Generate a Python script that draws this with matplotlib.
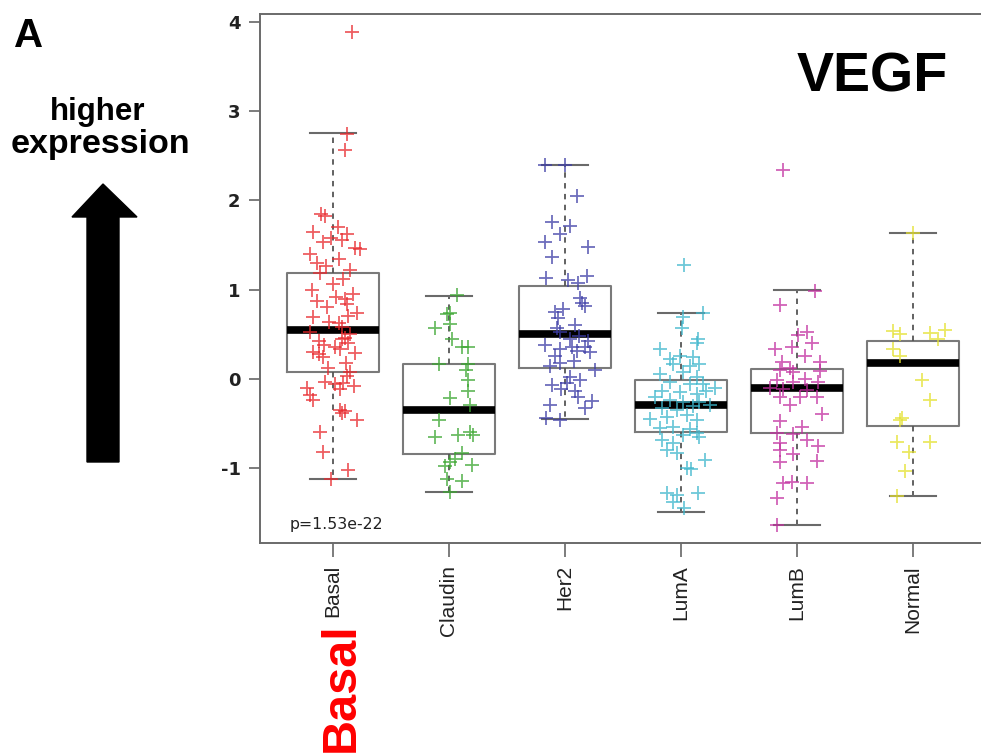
import numpy as np
import matplotlib.pyplot as plt
from matplotlib.patches import Polygon

plt.rcParams['axes.unicode_minus'] = False

W, H = 981, 754

def px(x, y):
    # pixel position in the picture -> figure fraction
    return x / W, 1 - y / H

groups = ["Basal", "Claudin", "Her2", "LumA", "LumB", "Normal"]
colors = ["#e8282c", "#3aa52f", "#3c3ca6", "#3db6cc", "#c22e9f", "#e4e02c"]

# box stats: q1, median, q3, lower and upper whisker
q1 = [0.08, -0.85, 0.12, -0.60, -0.61, -0.53]
med = [0.55, -0.35, 0.50, -0.29, -0.11, 0.18]
q3 = [1.19, 0.17, 1.04, -0.02, 0.11, 0.42]
whislo = [-1.12, -1.27, -0.45, -1.49, -1.64, -1.32]
whishi = [2.75, 0.93, 2.40, 0.74, 0.99, 1.63]

# points: value and horizontal jitter
basal_y = [3.89, 2.74, 2.57, 1.82, 1.85, 1.64, 1.62, 1.53, 1.55, 1.47, 1.45, 1.30, 1.34, 1.40,
           1.19, 1.22, 1.06, 1.00, 0.87, 0.89, 0.95, 0.80, 0.74, 0.69, 0.64, 0.70, 0.58, 0.52,
           0.50, 0.44, 0.40, 0.38, 0.33, 0.30, 0.28, 0.29, 0.18, 0.12, 0.07, -0.04, -0.06,
           -0.08, -0.10, -0.18, -0.05, -0.24, -0.35, -0.36, -0.46, -0.60, -0.82, -1.02, -1.12,
           1.70, 1.58, 1.26, 1.12, 0.92, 0.84, 0.62, 0.46, 0.42, 0.36, 0.24, 0.03, -0.12, -0.38]
basal_dx = [0.16, 0.12, 0.10, -0.07, -0.10, -0.17, 0.12, -0.09, 0.08, 0.19, 0.23, -0.14, 0.05, -0.20,
            -0.11, 0.15, 0.00, -0.18, -0.14, 0.10, 0.17, -0.05, 0.21, -0.17, -0.03, 0.13, 0.08, -0.20,
            0.15, 0.08, 0.13, -0.08, 0.06, -0.17, -0.12, 0.19, 0.11, -0.04, 0.15, -0.07, 0.02,
            0.18, -0.22, -0.20, 0.09, -0.17, 0.06, 0.10, 0.21, -0.11, -0.09, 0.13, -0.02,
            0.04, -0.02, -0.06, 0.09, 0.03, 0.12, 0.05, 0.10, -0.12, 0.02, -0.09, 0.12, 0.06, 0.08]

claudin_y = [0.94, 0.74, 0.72, 0.61, 0.57, 0.45, 0.36, 0.35, 0.16, 0.16, 0.10, -0.01, -0.14,
             -0.22, -0.30, -0.46, -0.60, -0.65, -0.63, -0.63, -0.83, -0.90, -0.93, -0.97, -0.98,
             -1.13, -1.15, -1.27]
claudin_dx = [0.07, 0.01, -0.02, 0.01, -0.12, 0.03, 0.11, 0.16, -0.09, 0.16, 0.15, 0.16, 0.16,
              0.01, 0.18, -0.09, 0.18, -0.12, 0.08, 0.21, 0.11, 0.05, 0.01, 0.20, -0.03,
              -0.02, 0.11, 0.01]

her2_y = [2.40, 2.40, 2.05, 1.76, 1.71, 1.62, 1.53, 1.48, 1.37, 1.13, 1.11, 1.15, 1.07, 0.90,
          0.85, 0.82, 0.75, 0.68, 0.60, 0.57, 0.52, 0.45, 0.42, 0.38, 0.36, 0.35, 0.33, 0.31,
          0.30, 0.25, 0.18, 0.14, 0.10, 0.02, -0.02, -0.07, -0.12, -0.14, -0.21, -0.25, -0.29,
          -0.33, -0.44, -0.46, 0.78, 0.48, 0.20, -0.05]
her2_dx = [-0.17, 0.00, 0.10, -0.11, 0.04, -0.04, -0.17, 0.20, -0.11, -0.16, 0.03, 0.19, 0.11, 0.13,
           0.15, 0.17, -0.09, -0.06, 0.09, -0.07, -0.04, 0.04, 0.20, -0.17, 0.06, 0.17, -0.04, 0.10,
           0.22, -0.09, -0.04, -0.13, 0.26, 0.04, 0.13, -0.11, -0.03, 0.09, 0.11, 0.23, -0.13,
           0.17, -0.16, -0.04, -0.02, 0.12, 0.08, 0.02]

luma_y = [1.28, 0.74, 0.69, 0.57, 0.44, 0.40, 0.33, 0.25, 0.22, 0.24, 0.16, 0.14, 0.16, 0.07,
          0.05, 0.02, -0.04, -0.06, -0.06, -0.10, -0.14, -0.15, -0.17, -0.14, -0.20, -0.24, -0.26,
          -0.26, -0.30, -0.33, -0.35, -0.31, -0.43, -0.41, -0.45, -0.46, -0.55, -0.54, -0.56,
          -0.63, -0.61, -0.65, -0.69, -0.72, -0.80, -0.83, -0.91, -1.00, -1.01, -1.28, -1.31,
          -1.28, -1.38, -1.45]
luma_dx = [0.03, 0.19, 0.02, 0.01, 0.15, 0.14, -0.18, -0.01, -0.09, 0.10, -0.07, 0.08, 0.16, 0.02,
           -0.18, 0.14, -0.09, 0.08, 0.19, 0.29, -0.16, -0.01, 0.14, 0.22, -0.22, -0.09, 0.02,
           0.16, 0.25, -0.16, -0.03, 0.10, -0.12, 0.05, -0.27, 0.14, -0.18, -0.07, 0.08,
           0.02, 0.14, 0.16, -0.16, -0.07, -0.12, -0.03, 0.21, 0.05, 0.09, -0.12, -0.03,
           0.15, -0.07, 0.03]

lumb_y = [2.34, 0.98, 0.83, 0.52, 0.49, 0.40, 0.35, 0.33, 0.25, 0.19, 0.19, 0.12, 0.10, 0.08,
          0.09, 0.00, -0.01, -0.04, -0.04, -0.10, -0.12, -0.13, -0.21, -0.20, -0.20, -0.30,
          -0.40, -0.48, -0.54, -0.61, -0.62, -0.69, -0.72, -0.75, -0.80, -0.85, -0.92, -0.94,
          -1.17, -1.16, -1.17, -1.34, -1.64]
lumb_dx = [-0.12, 0.16, -0.15, 0.09, 0.01, 0.13, -0.04, -0.19, 0.07, -0.13, 0.20, -0.06, -0.15, -0.03,
           0.20, 0.07, -0.17, -0.03, 0.18, -0.23, -0.12, 0.09, -0.15, 0.03, 0.17, -0.06,
           0.22, -0.15, 0.04, -0.17, -0.03, 0.09, -0.15, 0.18, -0.15, -0.03, 0.17, -0.15,
           -0.12, -0.04, 0.09, -0.17, -0.17]

normal_y = [1.63, 0.55, 0.53, 0.51, 0.50, 0.45, 0.33, 0.25, -0.01, -0.24, -0.44, -0.46, -0.71,
            -0.71, -0.82, -1.04, -1.32]
normal_dx = [0.00, 0.28, -0.17, 0.15, -0.11, 0.22, -0.17, -0.11, 0.08, 0.15, -0.09, -0.11, -0.14,
             0.15, -0.03, -0.07, -0.14]

points_y = [basal_y, claudin_y, her2_y, luma_y, lumb_y, normal_y]
points_dx = [basal_dx, claudin_dx, her2_dx, luma_dx, lumb_dx, normal_dx]

fig = plt.figure(figsize=(W / 100, H / 100), dpi=100)
x0, y0 = px(260, 543)
x1, y1 = px(986, 14)
ax = fig.add_axes([x0, y0, x1 - x0, y1 - y0])

pos = np.arange(1, len(groups) + 1)
stats = []
for i, g in enumerate(groups):
    stats.append(dict(label=g, q1=q1[i], med=med[i], q3=q3[i],
                      whislo=whislo[i], whishi=whishi[i], fliers=[]))

ax.bxp(stats, positions=pos, widths=0.8, capwidths=0.4, showfliers=False,
       boxprops=dict(color="#7a7a7a", linewidth=1.5),
       medianprops=dict(color="black", linewidth=5.5, solid_capstyle="butt"),
       whiskerprops=dict(color="#555555", linewidth=1.3, linestyle=(0, (3, 3))),
       capprops=dict(color="#6a6a6a", linewidth=1.5))

for i in range(len(groups)):
    xs = pos[i] + np.array(points_dx[i])
    ax.plot(xs, points_y[i], linestyle="none", marker="+", markersize=10,
            markeredgewidth=1.3, color=colors[i], alpha=0.75, zorder=3)

ax.set_xlim(0.371, 6.63)
ax.set_ylim(-1.843, 4.09)
ax.set_yticks([-1, 0, 1, 2, 3, 4])
ax.set_xticks(pos)
ax.set_xticklabels(groups, rotation=90, fontsize=15, family="Liberation Sans", color="#222222")
ax.tick_params(axis="y", length=8, width=1.2, color="#666666", pad=6, labelsize=13,
               labelcolor="#222222")
ax.tick_params(axis="x", length=10, width=1.2, color="#666666", pad=6)
for lbl in ax.get_yticklabels():
    lbl.set_fontweight("bold")
for s in ax.spines.values():
    s.set_color("#6a6a6a")
    s.set_linewidth(1.4)

# annotations around the panel
fig.text(*px(290, 529), "p=1.53e-22", fontsize=11.3, color="#222222", ha="left", va="baseline")
fig.text(*px(872, 92), "VEGF", fontsize=40, fontweight="bold", family="Liberation Sans",
         ha="center", va="baseline")
fig.text(*px(14, 47), "A", fontsize=29, fontweight="bold", family="Liberation Sans",
         ha="left", va="baseline")
fig.text(*px(98, 120), "higher", fontsize=22.5, fontweight="bold", family="Liberation Sans",
         ha="center", va="baseline")
fig.text(*px(100, 153), "expression", fontsize=24.5, fontweight="bold", family="Liberation Sans",
         ha="center", va="baseline")
fig.text(*px(341, 752), "Basal", fontsize=35, fontweight="bold", family="Liberation Sans",
         color="#ff0000", rotation=90, ha="center", va="bottom")

arrow = [(87, 462), (87, 217), (72, 217), (103, 184), (137, 217), (119, 217), (119, 462)]
fig.patches.append(Polygon([px(x, y) for x, y in arrow], closed=True, facecolor="black",
                           edgecolor="black", transform=fig.transFigure, figure=fig))

fig.savefig("out.png", dpi=100)
